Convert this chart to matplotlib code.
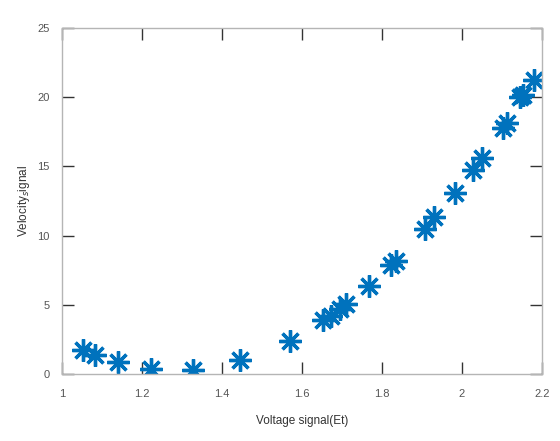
import matplotlib.pyplot as plt

plt.rcParams['font.family'] = ['Liberation Sans', 'DejaVu Sans']

# readings
voltage = [1.052, 1.082, 1.140, 1.222, 1.327, 1.445, 1.570, 1.652, 1.672, 1.695,
           1.710, 1.767, 1.822, 1.835, 1.907, 1.930, 1.982, 2.027, 2.050, 2.102,
           2.112, 2.145, 2.152, 2.180]
velocity = [1.73, 1.37, 0.87, 0.36, 0.29, 1.01, 2.38, 3.90, 4.20, 4.70,
            5.06, 6.36, 7.88, 8.16, 10.48, 11.34, 13.08, 14.74, 15.60, 17.77,
            18.14, 20.00, 20.16, 21.24]

x_ticks = [1, 1.2, 1.4, 1.6, 1.8, 2, 2.2]
x_tick_labels = ['1', '1.2', '1.4', '1.6', '1.8', '2', '2.2']
y_ticks = [0, 5, 10, 15, 20, 25]

fig = plt.figure(figsize=(5.6, 4.41), dpi=100)
ax = fig.add_axes([0.1107, 0.1519, 0.857, 0.7846])

# MATLAB style asterisk marker
ax.plot(voltage, velocity, linestyle='none', marker=(8, 2, 0),
        markersize=16, markeredgewidth=2.4, color='#0072BD')

ax.set_xlim(1, 2.2)
ax.set_ylim(0, 25)
ax.set_xticks(x_ticks)
ax.set_xticklabels(x_tick_labels)
ax.set_yticks(y_ticks)

for s in ax.spines.values():
    s.set_color('#b5b5b5')
    s.set_linewidth(1)

ax.tick_params(direction='in', length=8.5, width=1, color='#333333',
               labelcolor='#555555', labelsize=8,
               top=True, right=True)
ax.tick_params(axis='x', pad=11)
ax.tick_params(axis='y', pad=9)

ax.set_xlabel('Voltage signal(Et)', fontsize=8.5, color='#333333', labelpad=11)
ax.set_ylabel('Velocity$_s$ignal', fontsize=8.5, color='#333333', labelpad=4)

fig.savefig('out.png', dpi=100)
